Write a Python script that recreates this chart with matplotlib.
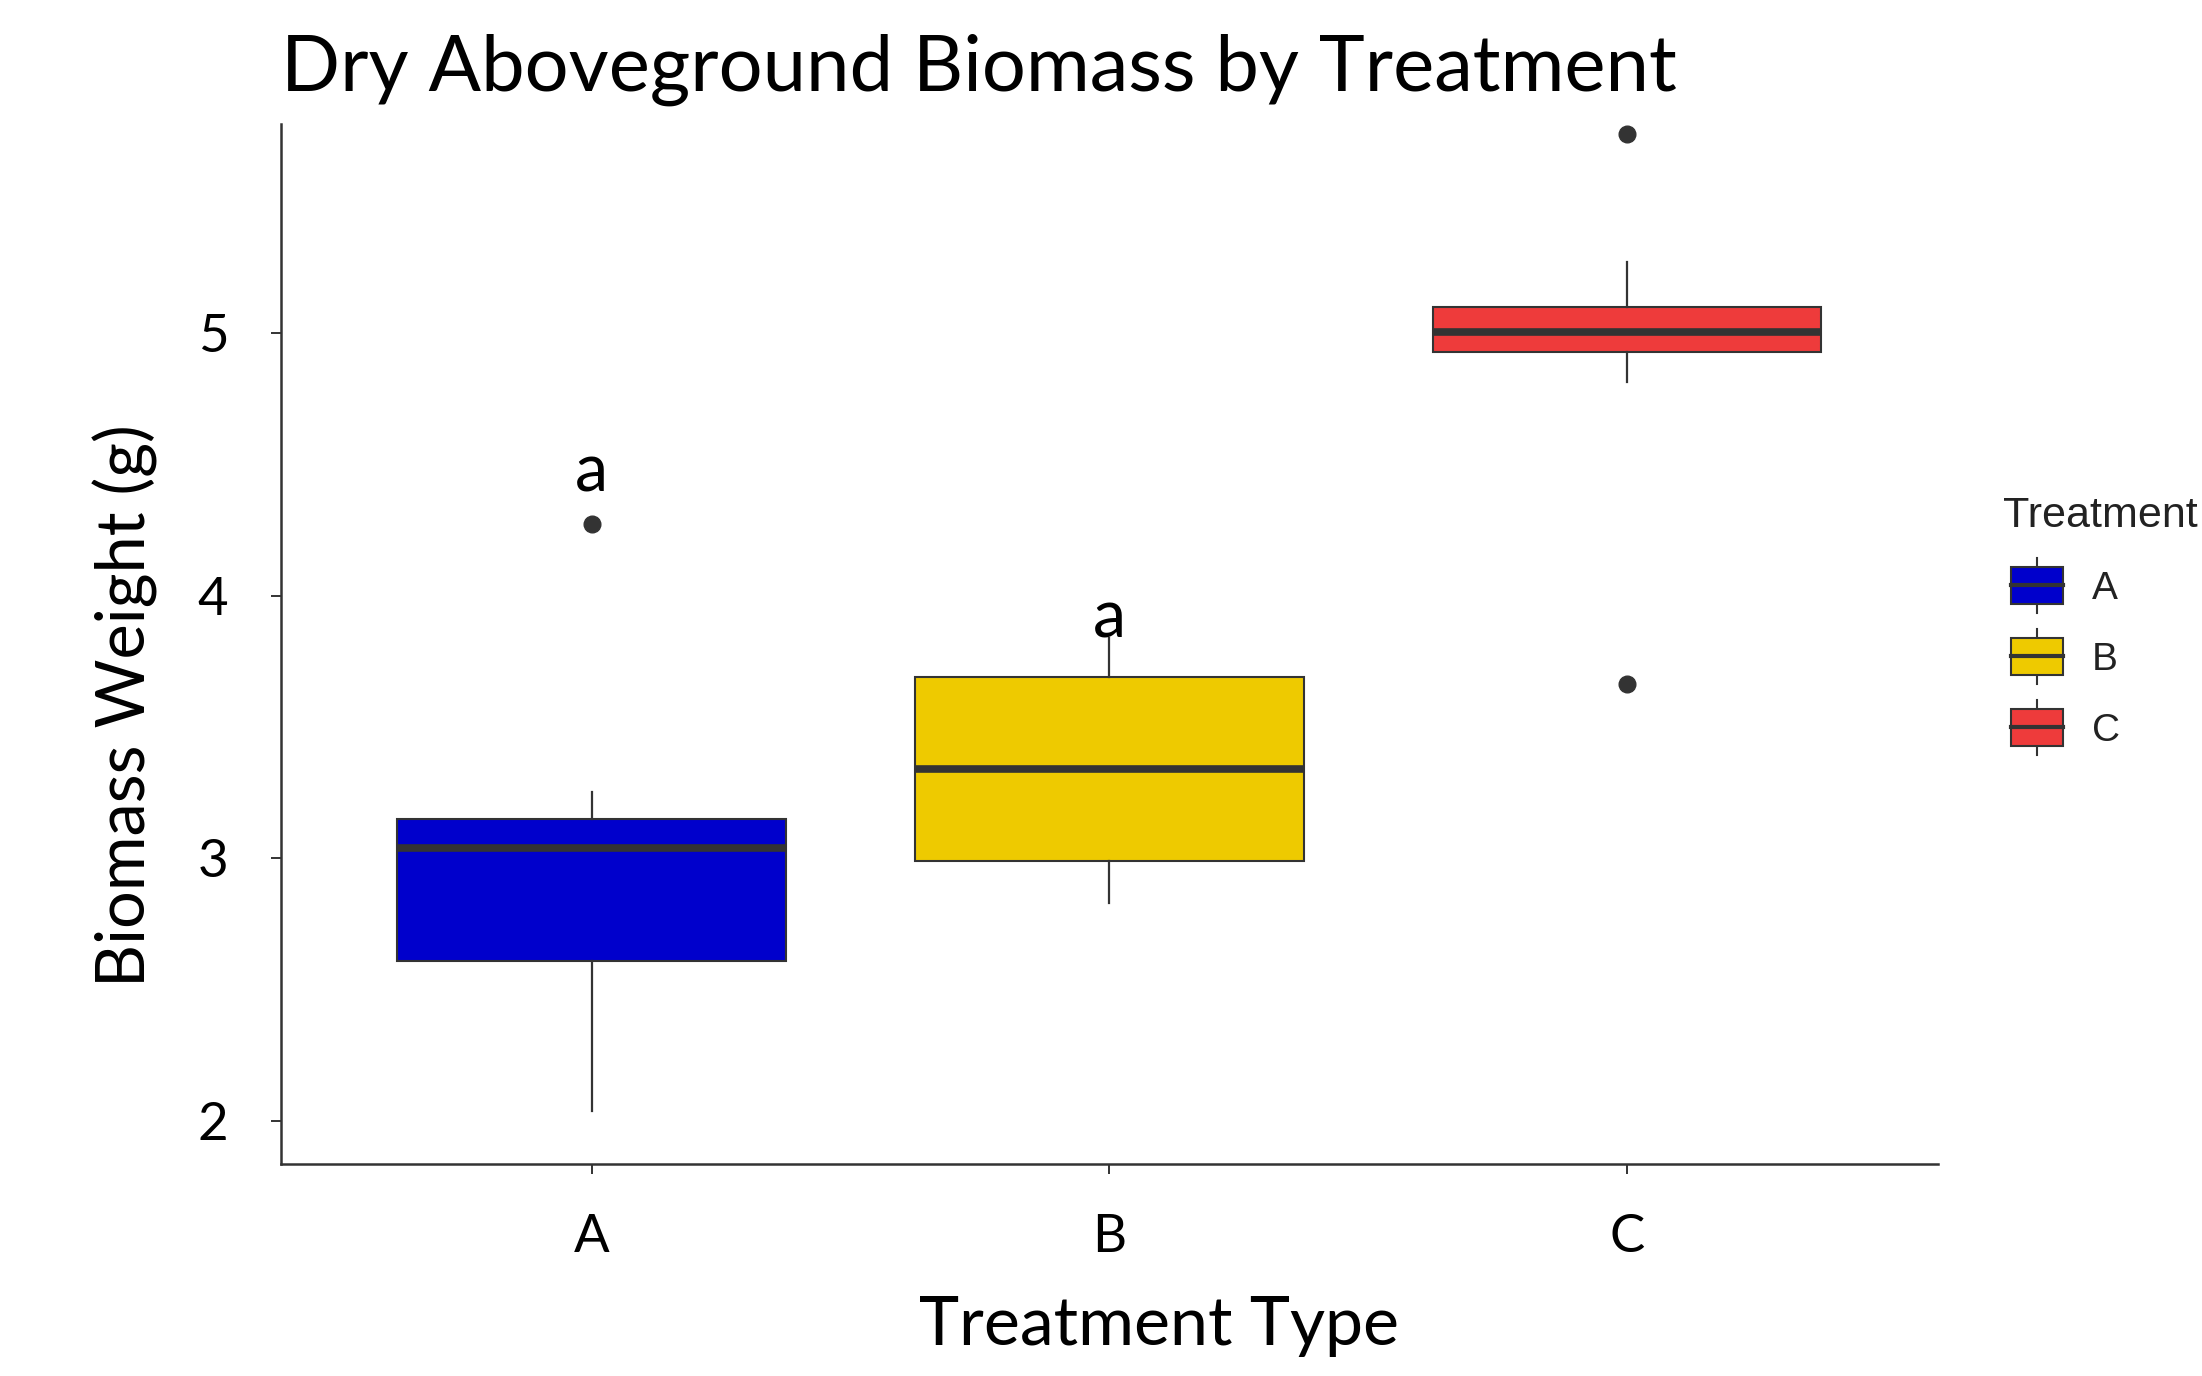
import matplotlib
matplotlib.use('Agg')
import matplotlib.pyplot as plt
from matplotlib.patches import Patch, Rectangle
from matplotlib.lines import Line2D
from matplotlib.legend_handler import HandlerBase

# Data
treatments = ['A', 'B', 'C']
colors = ['#0000CC', '#EECA00', '#EE3B3B']
q1 = [2.608, 2.989, 4.928]
medians = [3.038, 3.340, 5.003]
q3 = [3.148, 3.688, 5.099]
whis_lo = [2.038, 2.829, 4.814]
whis_hi = [3.251, 3.840, 5.270]
outliers = [[4.274], [], [5.757, 3.662]]

# significance letters
letter_groups = ['A', 'B']
letter_text = ['a', 'a']
letter_y = [4.395, 3.840]

line_col = '#333333'
font = 'Lato'


class BoxHandler(HandlerBase):
    # mini boxplot used as legend key
    def create_artists(self, legend, orig_handle, xdescent, ydescent,
                       width, height, fontsize, trans):
        off = 0.2 * fontsize
        x0 = -xdescent + off
        w = width - off
        cx = x0 + w / 2
        cy = -ydescent + height / 2
        bh = 0.95 * fontsize
        wh = 1.43 * fontsize
        lo = Line2D([cx, cx], [cy - wh / 2, cy - bh / 2], color=line_col, lw=1.5, transform=trans)
        hi = Line2D([cx, cx], [cy + bh / 2, cy + wh / 2], color=line_col, lw=1.5, transform=trans)
        rect = Rectangle((x0, cy - bh / 2), w, bh, facecolor=orig_handle.get_facecolor(),
                         edgecolor=line_col, lw=1.5, transform=trans)
        med = Line2D([x0, x0 + w], [cy, cy], color=line_col, lw=3, transform=trans)
        return [lo, hi, rect, med]


fig = plt.figure(figsize=(22.02, 13.76), dpi=100)
ax = fig.add_axes([0.1276, 0.1541, 0.7525, 0.7558])

stats = []
for i, t in enumerate(treatments):
    stats.append(dict(label=t, q1=q1[i], med=medians[i], q3=q3[i],
                      whislo=whis_lo[i], whishi=whis_hi[i], fliers=outliers[i]))

positions = list(range(1, len(treatments) + 1))
bp = ax.bxp(stats, positions=positions, widths=0.75, patch_artist=True, showcaps=False,
            boxprops=dict(edgecolor=line_col, linewidth=1.5),
            medianprops=dict(color=line_col, linewidth=5.5, solid_capstyle='butt'),
            whiskerprops=dict(color=line_col, linewidth=1.6),
            flierprops=dict(marker='o', markerfacecolor=line_col, markeredgecolor=line_col,
                            markersize=12))
for patch, c in zip(bp['boxes'], colors):
    patch.set_facecolor(c)

for g, txt, y in zip(letter_groups, letter_text, letter_y):
    ax.text(positions[treatments.index(g)], y, txt, ha='center', va='baseline',
            fontsize=48, family=font, color='black')

ax.set_xlim(0.4, 3.6)
ax.set_ylim(1.836, 5.795)
ax.set_yticks([2, 3, 4, 5])
ax.set_xticks(positions)
ax.set_xticklabels(treatments)

for s in ['top', 'right']:
    ax.spines[s].set_visible(False)
for s in ['left', 'bottom']:
    ax.spines[s].set_color(line_col)
    ax.spines[s].set_linewidth(1.8)

ax.tick_params(axis='both', length=7, width=1.4, color=line_col, labelsize=38)
ax.tick_params(axis='y', pad=31)
ax.tick_params(axis='x', pad=29)
for lab in ax.get_xticklabels() + ax.get_yticklabels():
    lab.set_family(font)

ax.set_title('Dry Aboveground Biomass by Treatment', loc='left', pad=24,
             fontsize=56, family=font)
ax.set_xlabel('Treatment Type', fontsize=49, family=font, va='baseline')
ax.xaxis.set_label_coords(0.530, -0.174)
ax.set_ylabel('Biomass Weight (g)', fontsize=48, family=font, va='center')
ax.yaxis.set_label_coords(-0.094, 0.441)

handles = [Patch(facecolor=c, label=t) for t, c in zip(treatments, colors)]
leg = fig.legend(handles=handles, title='Treatment', loc='upper left',
                 bbox_to_anchor=(2003 / 2202, 1 - 496 / 1376), frameon=False,
                 handler_map={Patch: BoxHandler()},
                 prop={'family': 'Liberation Sans', 'size': 28},
                 title_fontproperties={'family': 'Liberation Sans', 'size': 31},
                 handlelength=1.54, labelspacing=0.9,
                 handletextpad=0.75, borderpad=0, borderaxespad=0, alignment='left')
for txt in leg.get_texts():
    txt.set_color('#222222')
leg.get_title().set_color('#222222')

fig.savefig('out.png', dpi=100, facecolor='white')
